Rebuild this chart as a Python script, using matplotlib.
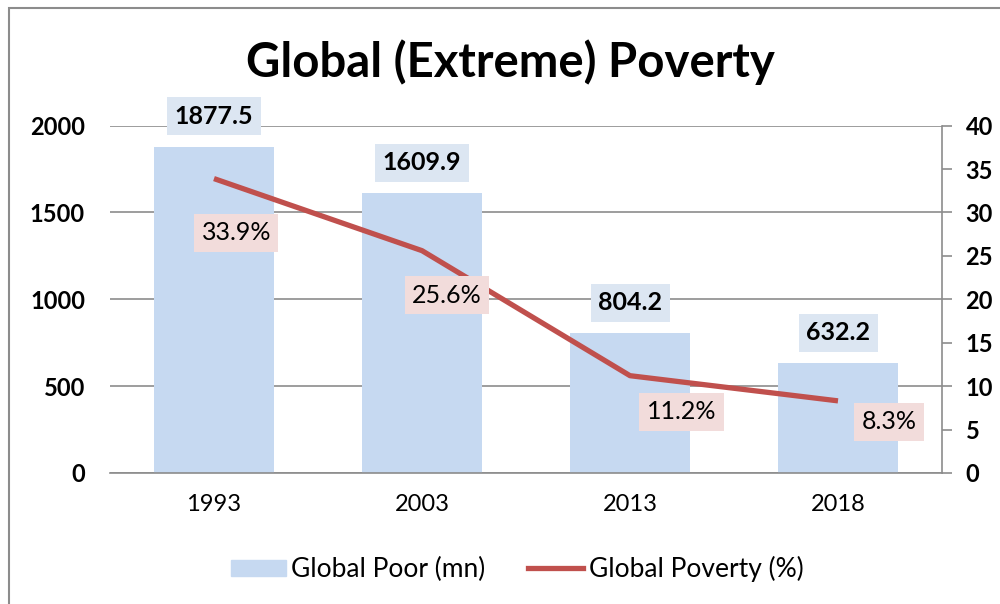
import matplotlib.pyplot as plt
import numpy as np
from matplotlib.lines import Line2D
from matplotlib.patches import Patch

plt.rcParams['font.family'] = ['Lato', 'DejaVu Sans']

years = ['1993', '2003', '2013', '2018']
poor_mn = [1877.5, 1609.9, 804.2, 632.2]
poverty_pct = [33.9, 25.6, 11.2, 8.3]

bar_col = '#c6d9f1'
bar_lbl_col = '#dce6f2'
line_col = '#c0504d'
pct_lbl_col = '#f2dcdb'
grid_col = '#8c8c8c'

fig = plt.figure(figsize=(10, 6.04), dpi=100)
ax = fig.add_axes([0.110, 0.217, 0.832, 0.575])
x = np.arange(len(years))

ax.bar(x, poor_mn, width=0.575, color=bar_col, zorder=2)
ax.set_xlim(-0.5, len(years) - 0.5)
ax.set_ylim(0, 2000)
ax.set_yticks([0, 500, 1000, 1500, 2000])
ax.yaxis.grid(True, color=grid_col, linewidth=1.2, zorder=0)
ax.set_axisbelow(True)
for s in ['left', 'top', 'right']:
    ax.spines[s].set_visible(False)
ax.spines['bottom'].set_color(grid_col)
ax.spines['bottom'].set_linewidth(1.2)
ax.tick_params(axis='y', length=0, pad=18, labelsize=17)
ax.tick_params(axis='x', length=0, pad=15, labelsize=17)
ax.set_xticks(x)
ax.set_xticklabels(years)
for t in ax.get_yticklabels():
    t.set_fontweight('bold')

# value boxes above the bars
for xi, v in zip(x, poor_mn):
    ax.annotate(f'{v:.1f}', (xi, v), xytext=(0, 22), textcoords='offset points',
                ha='center', va='center', fontsize=18, fontweight='bold',
                bbox=dict(boxstyle='square,pad=0.3', fc=bar_lbl_col, ec='none'),
                zorder=5)

ax2 = ax.twinx()
ax2.plot(x, poverty_pct, color=line_col, linewidth=3.8, solid_capstyle='butt', zorder=3)
ax2.set_ylim(0, 40)
ax2.set_yticks(range(0, 41, 5))
for s in ['left', 'top', 'bottom']:
    ax2.spines[s].set_visible(False)
ax2.spines['right'].set_color(grid_col)
ax2.spines['right'].set_linewidth(1.2)
ax2.tick_params(axis='y', length=7, width=1.2, color=grid_col, pad=10, labelsize=17)
for t in ax2.get_yticklabels():
    t.set_fontweight('bold')

pct_offsets = [(16, -39), (18, -32), (37, -26), (37, -15)]
for xi, v, off in zip(x, poverty_pct, pct_offsets):
    ax2.annotate(f'{v}%', (xi, v), xytext=off, textcoords='offset points',
                 ha='center', va='center', fontsize=18,
                 bbox=dict(boxstyle='square,pad=0.3', fc=pct_lbl_col, ec='none'),
                 zorder=5)

fig.text(0.51, 0.897, 'Global (Extreme) Poverty', ha='center', va='center',
         fontsize=34, fontweight='bold')

handles = [Patch(color=bar_col), Line2D([0], [0], color=line_col, linewidth=3.8)]
fig.legend(handles, ['Global Poor (mn)', 'Global Poverty (%)'], loc='center',
           bbox_to_anchor=(0.517, 0.058), ncol=2, frameon=False, fontsize=19,
           handlelength=2.1, handleheight=0.55, handletextpad=0.2, columnspacing=1.6)

# chart frame
fig.add_artist(plt.Rectangle((0.009, -0.05), 1.1, 1.037, transform=fig.transFigure,
                             fill=False, ec='#8c8c8c', lw=1.5))

fig.savefig('out.png', dpi=100)
